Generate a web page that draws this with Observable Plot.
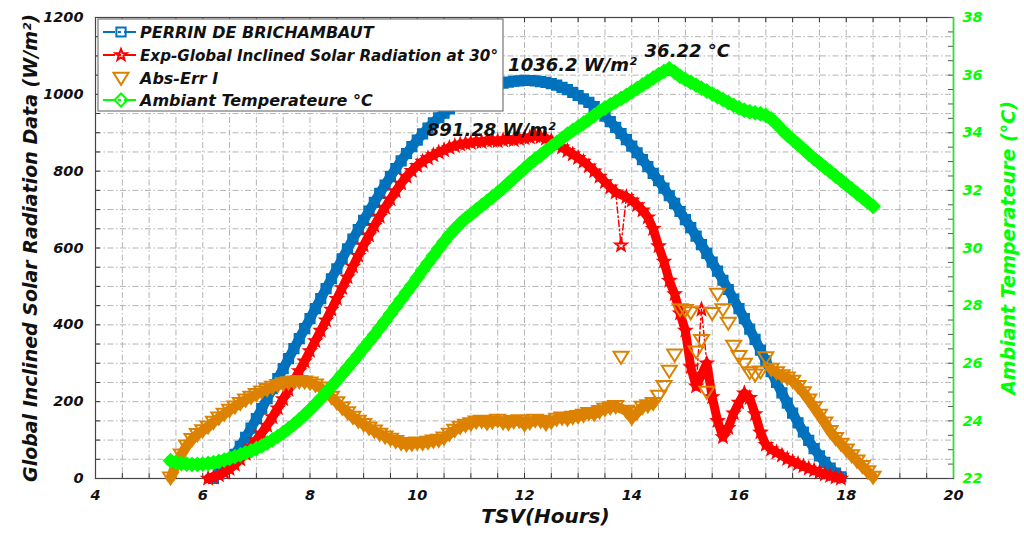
<!DOCTYPE html>
<html>
<head>
<meta charset="utf-8">
<script src="https://cdn.jsdelivr.net/npm/d3@7"></script>
<script src="https://cdn.jsdelivr.net/npm/@observablehq/plot@0.6"></script>
<style>
  html, body { margin: 0; padding: 0; background: #fff; }
  #chart { position: relative; width: 1024px; height: 535px; overflow: hidden; }
  #chart svg { position: absolute; left: 0; top: 0; }
</style>
</head>
<body>
<div id="chart"></div>
<script>
// Sampling step of every series (hours)
const STEP = 0.1;

// PERRIN DE BRICHAMBAUT model, W/m², from 6.2 h
const perrinStart = 6.2;
const perrin = [
  0, 12, 27, 44, 63, 84, 107, 131,
  156, 182, 208, 234, 260, 286, 312, 338, 364, 390,
  416, 442, 468, 494, 520, 546, 572, 598, 623, 648,
  672, 696, 719, 742, 764, 786, 807, 827, 846, 864,
  881, 897, 912, 926, 939, 951, 962, 972, 982, 991,
  999, 1006, 1012, 1018, 1022, 1026, 1029, 1032, 1034, 1035,
  1036.2, 1036, 1035, 1033, 1031, 1028, 1024, 1018, 1012, 1005,
  997, 988, 979, 968, 956, 943, 929, 914, 898, 882,
  865, 848, 830, 812, 794, 775, 756, 736, 716, 695,
  674, 653, 631, 609, 586, 563, 540, 516, 492, 467,
  442, 416, 389, 362, 334, 306, 278, 250, 223, 196,
  170, 145, 121, 99, 78, 59, 42, 27, 14, 4
];

// Measured global inclined radiation at 30°, W/m², from 6.1 h
const measuredStart = 6.1;
const measured = [
  0, 3, 9, 16, 25, 36, 50, 65, 82,
  100, 118, 138, 160, 183, 207, 231, 255, 280, 305,
  332, 358, 385, 412, 440, 468, 496, 524, 552, 580,
  607, 633, 658, 682, 705, 727, 748, 768, 786, 801,
  814, 825, 834, 842, 849, 855, 861, 866, 870, 872,
  874, 877, 876, 879, 880, 878, 881, 883, 881, 884,
  886, 888, 891.28, 889, 885, 879, 871, 862, 853, 844,
  835, 825, 813, 800, 786, 772, 758, 745, 607, 733,
  724, 712, 698, 680, 650, 605, 565, 515, 480, 430,
  385, 290, 240, 440, 300, 212, 150, 108, 132, 170,
  198, 222, 210, 168, 120, 88, 76, 68, 60, 51,
  44, 38, 32, 26, 21, 16, 11, 7, 3, 0
];

// Absolute error, W/m², from 5.4 h
const absErrStart = 5.4;
const absErr = [
  2, 35, 62, 85, 102, 115,
  125, 135, 147, 158, 168, 178, 187, 196, 205, 212,
  219, 226, 232, 238, 243, 247, 250, 252, 253, 252,
  249, 244, 236, 225, 212, 198, 184, 172, 160, 150,
  141, 132, 124, 116, 109, 103, 97, 92, 89, 90,
  93, 92, 95, 98, 100, 106, 116, 126, 134, 139,
  143, 148, 150, 145, 148, 152, 146, 144, 149, 151,
  141, 146, 152, 150, 143, 148, 155, 158, 155, 160,
  162, 165, 170, 168, 175, 181, 185, 188, 316, 176,
  158, 172, 186, 190, 196, 215, 240, 280, 322, 440,
  438, 432, 330, 360, 225, 430, 480, 440, 405, 345,
  318, 298, 276, 270, 278, 315, 285, 276, 268, 262,
  254, 240, 224, 205, 185, 165, 145, 123, 105, 90,
  75, 60, 46, 32, 18, 4
];

// Ambient temperature, °C, from 5.4 h
const tempStart = 5.4;
const temperature = [
  22.62, 22.56, 22.52, 22.5, 22.49, 22.49,
  22.5, 22.52, 22.55, 22.59, 22.64, 22.7, 22.76, 22.82, 22.89, 22.96,
  23.04, 23.13, 23.23, 23.34, 23.46, 23.59, 23.73, 23.88, 24.04, 24.21,
  24.39, 24.58, 24.78, 24.98, 25.19, 25.4, 25.62, 25.84, 26.06, 26.29,
  26.52, 26.75, 26.98, 27.22, 27.46, 27.71, 27.96, 28.21, 28.46, 28.71,
  28.97, 29.23, 29.48, 29.73, 29.98, 30.22, 30.45, 30.66, 30.85, 31.02,
  31.17, 31.32, 31.47, 31.62, 31.77, 31.92, 32.08, 32.25, 32.42, 32.59,
  32.76, 32.93, 33.08, 33.22, 33.37, 33.52, 33.66, 33.8, 33.95, 34.08,
  34.2, 34.33, 34.46, 34.6, 34.74, 34.86, 34.97, 35.08, 35.19, 35.3,
  35.42, 35.54, 35.66, 35.78, 35.9, 36.02, 36.13, 36.22, 36.1, 35.96,
  35.85, 35.75, 35.65, 35.55, 35.45, 35.35, 35.25, 35.15, 35.05, 34.95,
  34.86, 34.78, 34.73, 34.69, 34.66, 34.6, 34.48, 34.3, 34.1, 33.92,
  33.76, 33.6, 33.43, 33.26, 33.1, 32.95, 32.8, 32.65, 32.5, 32.35,
  32.2, 32.05, 31.9, 31.75, 31.6, 31.45
];

// Peak annotations
const perrinPeak = {t: 12.0, v: 1036.2};
const measuredPeak = {t: 12.2, v: 891.28};
const tempPeak = {t: 14.7, v: 36.22};

// Axes: tick values and texts
const xTicks = [4, 6, 8, 10, 12, 14, 16, 18, 20];
const xMinor = d3.range(4, 20.001, 0.5);
const yTicks = [0, 200, 400, 600, 800, 1000, 1200];
const yMinor = d3.range(0, 1200.001, 50);
const tTicks = [22, 24, 26, 28, 30, 32, 34, 36, 38];
const tMinor = d3.range(22, 38.001, 0.5);
const xLabel = "TSV(Hours)";
const yLabel = "Global Inclined Solar Radiation Data (W/m²)";
const tLabel = "Ambiant Temperateure (°C)";
const legendLabels = [
  "PERRIN DE BRICHAMBAUT",
  "Exp-Global Inclined Solar Radiation at 30°",
  "Abs-Err I",
  " Ambiant Temperateure °C"
];

const BLUE = "#0072BD", RED = "#FF0000", ORANGE = "#DD8200", GREEN = "#00FF00";
const FONT = "DejaVu Sans";
const W = 1024, H = 535;
const M = {top: 17, right: 71, bottom: 57, left: 95};
const innerW = W - M.left - M.right, innerH = H - M.top - M.bottom;

const rows = (start, values) => values.map((v, i) => ({t: Math.round((start + i * STEP) * 10) / 10, v}));

// Marker shapes (size is the symbol area, radius r = sqrt(size / PI))
const rad = size => Math.sqrt(size / Math.PI);
const squareSym = {draw(ctx, size) { const r = rad(size); ctx.rect(-r, -r, 2 * r, 2 * r); }};
const starSym = {draw(ctx, size) {
  const R = rad(size) * 1.25, q = R * 0.42;
  for (let i = 0; i < 10; i++) {
    const a = -Math.PI / 2 + i * Math.PI / 5, rr = i % 2 ? q : R;
    const x = rr * Math.cos(a), y = rr * Math.sin(a);
    if (i) ctx.lineTo(x, y); else ctx.moveTo(x, y);
  }
  ctx.closePath();
}};
const triDownSym = {draw(ctx, size) {
  const r = rad(size);
  ctx.moveTo(-r, -r * 0.7); ctx.lineTo(r, -r * 0.7); ctx.lineTo(0, r * 0.9); ctx.closePath();
}};
const diamondSym = {draw(ctx, size) {
  const r = rad(size);
  ctx.moveTo(0, -r); ctx.lineTo(r, 0); ctx.lineTo(0, r); ctx.lineTo(-r, 0); ctx.closePath();
}};

const GRID = {stroke: "#b4b4b4", strokeWidth: 1, strokeDasharray: "6,2.5,1.5,2.5"};
const DASHDOT = "6,3,1.5,3";
const BAND = {strokeLinejoin: "round", strokeLinecap: "round"};
const baseStyle = {fontFamily: FONT, fontWeight: "bold", fontStyle: "italic", fontSize: "14.5px", overflow: "visible"};

const perrinRows = rows(perrinStart, perrin);
const measuredRows = rows(measuredStart, measured);
const absErrRows = rows(absErrStart, absErr);
const tempRows = rows(tempStart, temperature);

// Isolated readings are drawn as single markers joined by the thin dash-dot line only
const measuredIsolated = new Set([13.8, 15.3]);
const absErrDense = d => (d.t <= 14.4 && d.t !== 13.8) || d.t >= 16.6;

// Radiation layer: frame, grid, left & bottom axes, three radiation series
const base = Plot.plot({
  width: W, height: H,
  marginTop: M.top, marginRight: M.right, marginBottom: M.bottom, marginLeft: M.left,
  style: {...baseStyle, background: "white", color: "#111"},
  x: {domain: [4, 20], axis: null},
  y: {domain: [0, 1200], axis: null},
  marks: [
    Plot.ruleX(xMinor.slice(1, -1), GRID),
    Plot.ruleY(yMinor.slice(1, -1), GRID),
    Plot.tickX(xMinor, {x: d => d, insetTop: innerH - 5, stroke: "#333"}),
    Plot.tickX(xMinor, {x: d => d, insetBottom: innerH - 5, stroke: "#333"}),
    Plot.tickY(yMinor, {y: d => d, insetRight: innerW - 5, stroke: "#333"}),
    Plot.frame({stroke: "#444", strokeWidth: 1.2}),
    Plot.text(xTicks, {x: d => d, frameAnchor: "bottom", dy: 21, text: d => `${d}`, fill: "#111"}),
    Plot.text(yTicks, {y: d => d, frameAnchor: "left", dx: -12, textAnchor: "end", text: d => `${d}`, fill: "#111"}),
    Plot.text([xLabel], {frameAnchor: "bottom", dx: 21, dy: 44, text: d => d, fontSize: 20, fill: "#111"}),
    Plot.text([yLabel], {frameAnchor: "left", dx: -65, rotate: -90, textAnchor: "middle", text: d => d, fontSize: 19, fill: "#111"}),

    Plot.line(perrinRows, {x: "t", y: "v", stroke: BLUE, strokeWidth: 10, ...BAND}),
    Plot.dot(perrinRows, {x: "t", y: "v", r: 4.6, symbol: squareSym, stroke: BLUE, strokeWidth: 2, fill: "none"}),

    Plot.line(measuredRows, {x: "t", y: "v", stroke: RED, strokeWidth: 1.5, strokeDasharray: DASHDOT}),
    Plot.line(measuredRows, {x: "t", y: "v", filter: d => !measuredIsolated.has(d.t), stroke: RED, strokeWidth: 9, ...BAND}),
    Plot.dot(measuredRows, {x: "t", y: "v", r: 4.8, symbol: starSym, stroke: RED, strokeWidth: 2, fill: "none"}),

    Plot.line(absErrRows, {x: "t", y: "v", filter: absErrDense, z: d => d.t < 15 ? "day" : "evening", stroke: ORANGE, strokeWidth: 10, ...BAND}),
    Plot.dot(absErrRows, {x: "t", y: "v", r: 7.5, symbol: triDownSym, stroke: ORANGE, strokeWidth: 2, fill: "none"}),

    Plot.text([perrinPeak], {x: "t", y: "v", text: d => `${d.v} W/m²`, dx: 48, dy: -15, fontSize: 18, fill: "#111"}),
    Plot.text([measuredPeak], {x: "t", y: "v", text: d => `${d.v} W/m²`, dx: -44, dy: -6, fontSize: 18, fill: "#111"})
  ]
});

// Temperature layer: right axis and temperature series, on its own scale
const over = Plot.plot({
  width: W, height: H,
  marginTop: M.top, marginRight: M.right, marginBottom: M.bottom, marginLeft: M.left,
  style: {...baseStyle, background: "transparent", color: GREEN},
  x: {domain: [4, 20], axis: null},
  y: {domain: [22, 38], axis: null},
  marks: [
    Plot.tickY(tMinor, {y: d => d, insetLeft: innerW - 5, stroke: "#555"}),
    Plot.ruleX([20], {stroke: GREEN, strokeWidth: 1.5}),
    Plot.text(tTicks, {y: d => d, frameAnchor: "right", dx: 9, textAnchor: "start", text: d => `${d}`, fill: GREEN}),
    Plot.text([tLabel], {frameAnchor: "right", dx: 55, rotate: -90, textAnchor: "middle", text: d => d, fontSize: 19, fill: GREEN}),

    Plot.line(tempRows, {x: "t", y: "v", stroke: GREEN, strokeWidth: 11, ...BAND}),
    Plot.dot(tempRows, {x: "t", y: "v", r: 6.5, symbol: diamondSym, stroke: GREEN, strokeWidth: 2, fill: "none"}),

    Plot.text([tempPeak], {x: "t", y: "v", text: d => `${d.v} °C`, dx: 18, dy: -18, fontSize: 18, fill: "#111"})
  ]
});

const chart = document.getElementById("chart");
chart.append(base, over);

// Legend box in the upper-left corner of the plot area
const ns = "http://www.w3.org/2000/svg";
const leg = document.createElementNS(ns, "svg");
leg.setAttribute("width", W);
leg.setAttribute("height", H);
leg.style.pointerEvents = "none";
const box = {x: 98, y: 19, w: 405, h: 92};
const el = (name, attrs, parent = leg) => {
  const e = document.createElementNS(ns, name);
  for (const [k, v] of Object.entries(attrs)) e.setAttribute(k, v);
  parent.append(e);
  return e;
};
el("rect", {x: box.x, y: box.y, width: box.w, height: box.h, fill: "white", stroke: "#777", "stroke-width": 1.2});
const legendStyles = [
  {color: BLUE, sym: squareSym, r: 4.6, line: true},
  {color: RED, sym: starSym, r: 4.8, line: true},
  {color: ORANGE, sym: triDownSym, r: 7.5, line: false},
  {color: GREEN, sym: diamondSym, r: 6.5, line: true}
];
const rowY = [32, 55, 78, 100];
legendLabels.forEach((label, i) => {
  const s = legendStyles[i], cy = rowY[i], cx = 121;
  if (s.line) el("line", {x1: 103, x2: 139, y1: cy, y2: cy, stroke: s.color, "stroke-width": 2, "stroke-dasharray": "12,3,3,3"});
  const path = d3.path();
  s.sym.draw(path, Math.PI * s.r * s.r);
  el("path", {d: path.toString(), transform: `translate(${cx},${cy})`, fill: "none", stroke: s.color, "stroke-width": 2});
  const t = el("text", {x: 140, y: cy, dy: "0.36em", fill: "#111",
    "font-family": FONT, "font-weight": "bold", "font-style": "italic", "font-size": 16, "xml:space": "preserve"});
  t.textContent = label;
  if (i === 1) { t.setAttribute("textLength", 358); t.setAttribute("lengthAdjust", "spacingAndGlyphs"); }
});
chart.append(leg);
</script>
</body>
</html>
